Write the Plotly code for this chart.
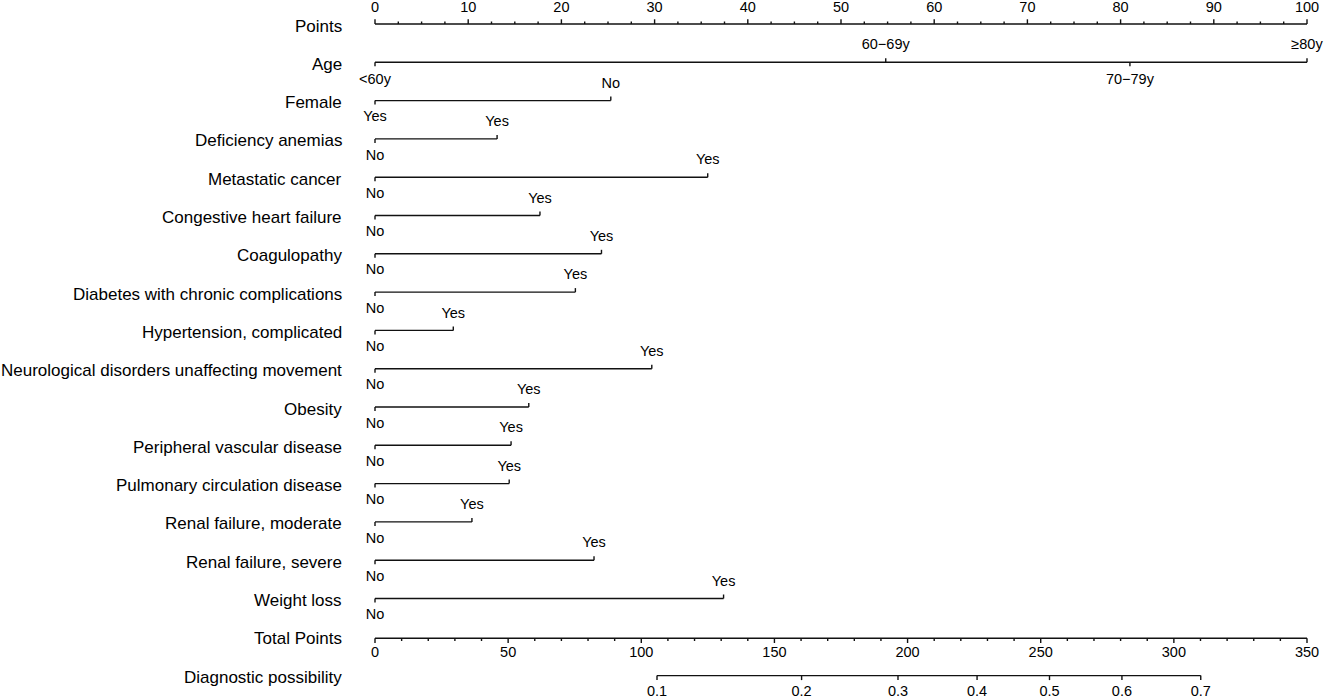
import plotly.graph_objects as go

# nomogram values (points scale 0-100)
points_ticks = [0, 10, 20, 30, 40, 50, 60, 70, 80, 90, 100]

age_labels = ["<60y", "60\u221269y", "70\u221279y", "\u226580y"]
age_points = [0, 54.8, 81.0, 100]

binary_rows = ["Female", "Deficiency anemias", "Metastatic cancer",
               "Congestive heart failure", "Coagulopathy",
               "Diabetes with chronic complications", "Hypertension, complicated",
               "Neurological disorders unaffecting movement", "Obesity",
               "Peripheral vascular disease", "Pulmonary circulation disease",
               "Renal failure, moderate", "Renal failure, severe", "Weight loss"]
binary_points = [25.3, 13.1, 35.7, 17.7, 24.3, 21.5, 8.4, 29.7, 16.5,
                 14.6, 14.4, 10.4, 23.5, 37.4]
low_label = ["Yes"] + ["No"] * 13
high_label = ["No"] + ["Yes"] * 13

total_ticks = [0, 50, 100, 150, 200, 250, 300, 350]
total_max = 350

prob_labels = ["0.1", "0.2", "0.3", "0.4", "0.5", "0.6", "0.7"]
prob_total = [105.9, 160.2, 196.4, 226.1, 253.3, 280.5, 310.1]

# layout in pixels
W, H = 1325, 699
X0, PX = 375, 9.32          # pixel of 0 points, pixels per point
ROW0, DY = 24, 38.3
FONT = "Liberation Sans, Arial, Helvetica, sans-serif"
LAB_SIZE = 17
TICK_SIZE = 14.5
LINE = dict(color="#111111", width=1.4)


def row_y(i):
    return ROW0 + DY * i


def to_pts(total):
    return total * 100.0 / total_max


segs_x, segs_y = [], []


def seg(x1, y1, x2, y2):
    segs_x.extend([x1, x2, None])
    segs_y.extend([y1, y2, None])


texts_x, texts_y, texts = [], [], []


def label(x, y, t):
    texts_x.append(x)
    texts_y.append(y)
    texts.append(t)


row_names = ["Points", "Age"] + binary_rows + ["Total Points", "Diagnostic possibility"]

# Points axis
y = row_y(0)
seg(0, y, 100, y)
for k in range(41):
    v = k * 2.5
    seg(v, y, v, y - (4.7 if k % 4 == 0 else 2.5))
for v in points_ticks:
    label(v, y - 15.5, str(v))

# Age
y = row_y(1)
seg(age_points[0], y, age_points[-1], y)
for j, (v, t) in enumerate(zip(age_points, age_labels)):
    up = j % 2 == 1
    seg(v, y, v, y - 4 if up else y + 4)
    label(v, y - 16.5 if up else y + 18.5, t)

# binary rows
for i, (v, lo, hi) in enumerate(zip(binary_points, low_label, high_label)):
    y = row_y(i + 2)
    seg(0, y, v, y)
    seg(0, y, 0, y + 4)
    seg(v, y, v, y - 4)
    label(0, y + 17, lo)
    label(v, y - 16.5, hi)

# Total points
y = row_y(16) + 1.5
seg(0, y, to_pts(total_max), y)
for k in range(36):
    v = k * 10
    seg(to_pts(v), y, to_pts(v), y + (4.7 if v % 50 == 0 else 2.7))
for v in total_ticks:
    label(to_pts(v), y + 15.5, str(v))

# Diagnostic possibility
y = row_y(17) + 0.5
seg(to_pts(prob_total[0]), y, to_pts(prob_total[-1]), y)
for v, t in zip(prob_total, prob_labels):
    seg(to_pts(v), y, to_pts(v), y + 4.5)
    label(to_pts(v), y + 17, t)

fig = go.Figure()
fig.add_trace(go.Scatter(x=segs_x, y=segs_y, mode="lines", line=LINE,
                         hoverinfo="skip", showlegend=False))
fig.add_trace(go.Scatter(x=texts_x, y=texts_y, mode="text", text=texts,
                         textposition="middle center",
                         textfont=dict(family=FONT, size=TICK_SIZE, color="#000000"),
                         hoverinfo="skip", showlegend=False))

for i, name in enumerate(row_names):
    fig.add_annotation(x=(344 - X0) / PX, y=row_y(i) + 2, text=name,
                       showarrow=False, xanchor="right", yanchor="middle",
                       font=dict(family=FONT, size=LAB_SIZE, color="#000000"))

fig.update_layout(
    width=W, height=H,
    margin=dict(l=0, r=0, t=0, b=0),
    paper_bgcolor="white", plot_bgcolor="white",
    xaxis=dict(range=[-X0 / PX, (W - X0) / PX], visible=False, fixedrange=True),
    yaxis=dict(range=[H, 0], visible=False, fixedrange=True),
)

# drop the default page margin so the figure sits at the window's corner
fig.write_html("out.html", config={"displayModeBar": False},
               post_script="document.body.style.margin='0';document.body.style.overflow='hidden';")
